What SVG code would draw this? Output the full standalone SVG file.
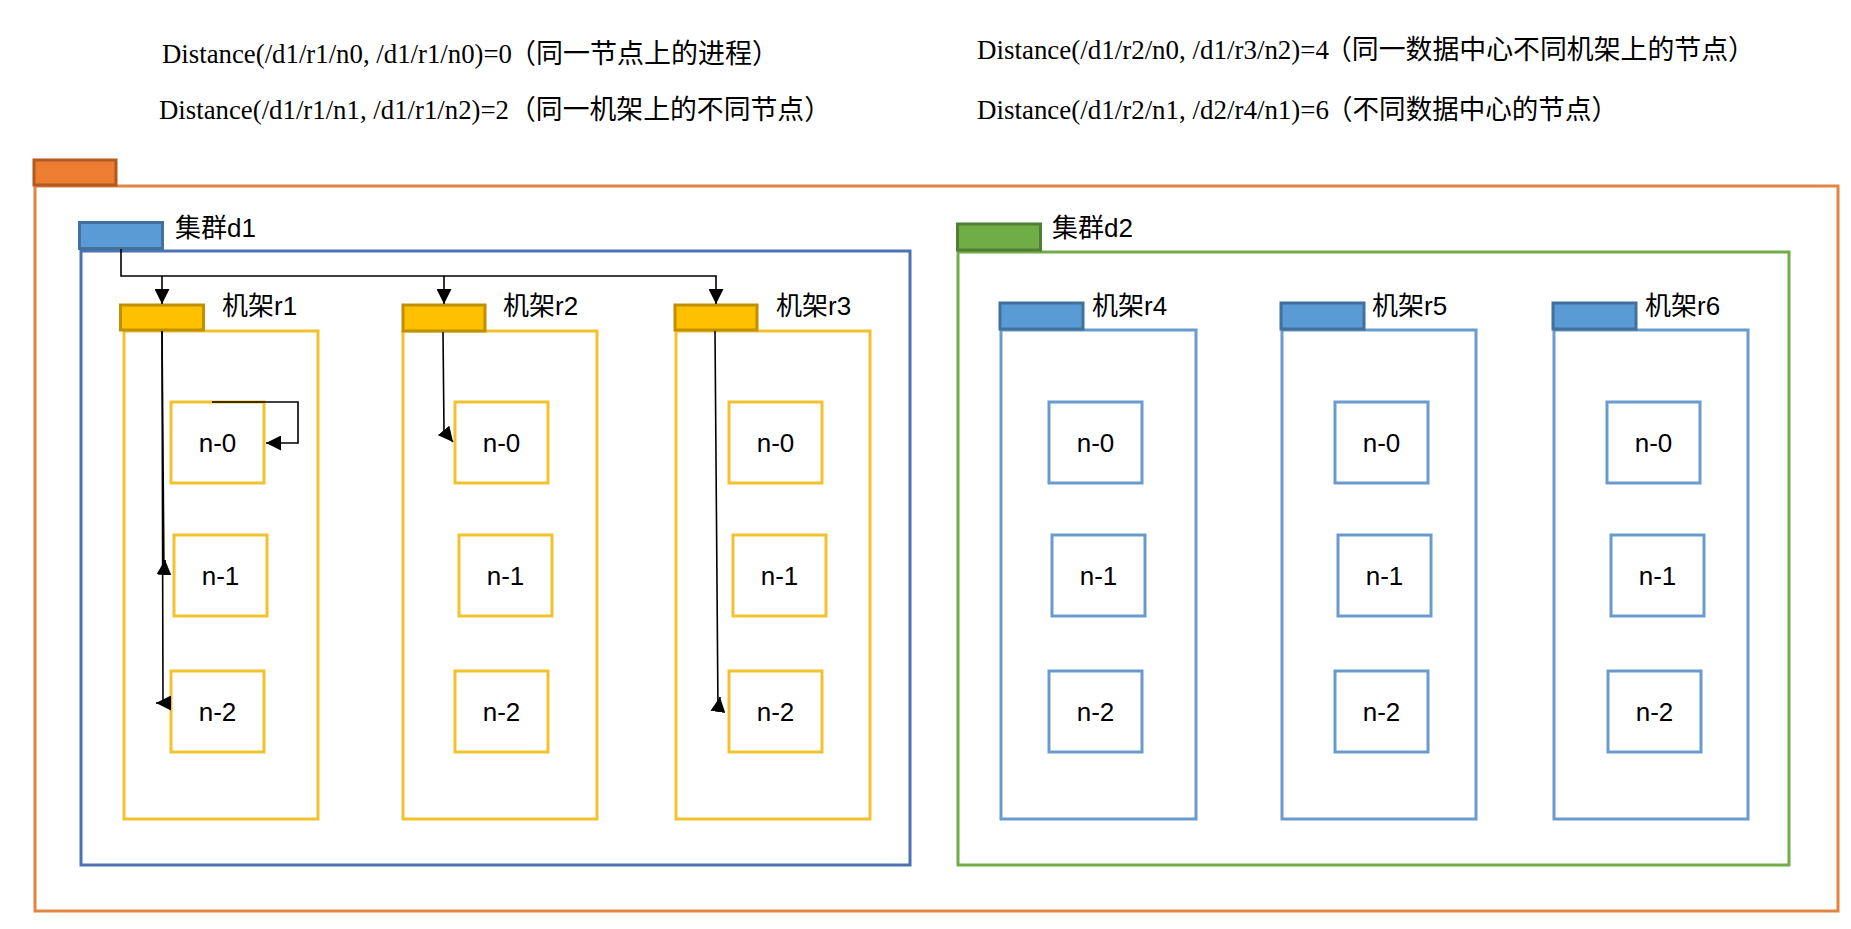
<svg xmlns="http://www.w3.org/2000/svg" width="1851" height="929" viewBox="0 0 1851 929">
<style>
.bg{fill:#fff}
.orange{fill:none;stroke:#E38441;stroke-width:3}
.tab-o{fill:#ED7D31;stroke:#AE5A21;stroke-width:3}
.tab-b{fill:#5B9BD5;stroke:#41719C;stroke-width:3}
.tab-g{fill:#70AD47;stroke:#507E32;stroke-width:3}
.tab-y{fill:#FFC000;stroke:#BF9000;stroke-width:3}
.box-d1{fill:none;stroke:#4A72B4;stroke-width:3}
.box-d2{fill:none;stroke:#70AD47;stroke-width:3}
.rack-y{fill:none;stroke:#F2C12E;stroke-width:3}
.rack-b{fill:none;stroke:#6A9BCD;stroke-width:3}
.node-y{fill:#fff;stroke:#F2C12E;stroke-width:3}
.node-b{fill:#fff;stroke:#6A9BCD;stroke-width:3}
.lbl{font-family:"Liberation Sans","Noto Sans CJK SC",sans-serif;font-size:26px;fill:#000}
.nt{font-family:"Liberation Sans",Arial,sans-serif;font-size:26px;text-anchor:middle;fill:#000}
.lat{font-family:"Liberation Serif","Times New Roman",serif;font-size:28px;fill:#000}
.cjk{font-family:"Noto Sans CJK SC",sans-serif;font-size:27.5px;fill:#000}
.conn{fill:none;stroke:#000;stroke-width:1.6}
</style>
<defs>
<marker id="arr" markerUnits="userSpaceOnUse" markerWidth="15" markerHeight="15" viewBox="0 0 14 14" refX="14" refY="7" orient="auto">
<path d="M0,0 L14,7 L0,14 Z" fill="#000"/>
</marker>
</defs>
<rect class="bg" x="0" y="0" width="1851" height="929"/>

<g id="formulas">
<text class="lat" x="162" y="63" textLength="350" lengthAdjust="spacingAndGlyphs">Distance(/d1/r1/n0, /d1/r1/n0)=0</text>
<text class="cjk" x="509" y="63" textLength="270" lengthAdjust="spacingAndGlyphs">（同一节点上的进程）</text>
<text class="lat" x="159" y="119" textLength="350" lengthAdjust="spacingAndGlyphs">Distance(/d1/r1/n1, /d1/r1/n2)=2</text>
<text class="cjk" x="509" y="119" textLength="322" lengthAdjust="spacingAndGlyphs">（同一机架上的不同节点）</text>
<text class="lat" x="977" y="58.5" textLength="352" lengthAdjust="spacingAndGlyphs">Distance(/d1/r2/n0, /d1/r3/n2)=4</text>
<text class="cjk" x="1325" y="58.5" textLength="430" lengthAdjust="spacingAndGlyphs">（同一数据中心不同机架上的节点）</text>
<text class="lat" x="977" y="119" textLength="352" lengthAdjust="spacingAndGlyphs">Distance(/d1/r2/n1, /d2/r4/n1)=6</text>
<text class="cjk" x="1326" y="119" textLength="292" lengthAdjust="spacingAndGlyphs">（不同数据中心的节点）</text>
</g>

<g id="root">
<rect class="orange" x="35" y="186" width="1803" height="725"/>
<rect class="tab-o" x="34" y="160" width="82" height="25"/>
</g>

<g id="d1">
<rect class="box-d1" x="81" y="251" width="829" height="614"/>
<rect class="tab-b" x="79.5" y="222.5" width="83" height="26"/>
<text class="lbl" x="175" y="237" font-size="27">集群d1</text>
</g>

<g id="d2">
<rect class="box-d2" x="958" y="252" width="831" height="613"/>
<rect class="tab-g" x="957.5" y="224" width="83" height="26"/>
<text class="lbl" x="1052" y="237" font-size="27">集群d2</text>
</g>

<g id="r1">
<rect class="rack-y" x="124" y="331" width="194" height="488"/>
<rect class="tab-y" x="120.5" y="305" width="83" height="25"/>
<text class="lbl" x="222" y="315">机架r1</text>
</g>
<g id="r1-n0"><rect class="node-y" x="171" y="402" width="93" height="81"/><text class="nt" x="217.5" y="452">n-0</text></g>
<g id="r1-n1"><rect class="node-y" x="174" y="535" width="93" height="81"/><text class="nt" x="220.5" y="585">n-1</text></g>
<g id="r1-n2"><rect class="node-y" x="171" y="671" width="93" height="81"/><text class="nt" x="217.5" y="721">n-2</text></g>

<g id="r2">
<rect class="rack-y" x="403" y="331" width="194" height="488"/>
<rect class="tab-y" x="403" y="305" width="82" height="26"/>
<text class="lbl" x="503" y="315">机架r2</text>
</g>
<g id="r2-n0"><rect class="node-y" x="455" y="402" width="93" height="81"/><text class="nt" x="501.5" y="452">n-0</text></g>
<g id="r2-n1"><rect class="node-y" x="459" y="535" width="93" height="81"/><text class="nt" x="505.5" y="585">n-1</text></g>
<g id="r2-n2"><rect class="node-y" x="455" y="671" width="93" height="81"/><text class="nt" x="501.5" y="721">n-2</text></g>

<g id="r3">
<rect class="rack-y" x="676" y="331" width="194" height="488"/>
<rect class="tab-y" x="675" y="305" width="82" height="25"/>
<text class="lbl" x="776" y="315">机架r3</text>
</g>
<g id="r3-n0"><rect class="node-y" x="729" y="402" width="93" height="81"/><text class="nt" x="775.5" y="452">n-0</text></g>
<g id="r3-n1"><rect class="node-y" x="733" y="535" width="93" height="81"/><text class="nt" x="779.5" y="585">n-1</text></g>
<g id="r3-n2"><rect class="node-y" x="729" y="671" width="93" height="81"/><text class="nt" x="775.5" y="721">n-2</text></g>

<g id="r4">
<rect class="rack-b" x="1001" y="330" width="195" height="489"/>
<rect class="tab-b" x="1000" y="303" width="83" height="26"/>
<text class="lbl" x="1092" y="315">机架r4</text>
</g>
<g id="r4-n0"><rect class="node-b" x="1049" y="402" width="93" height="81"/><text class="nt" x="1095.5" y="452">n-0</text></g>
<g id="r4-n1"><rect class="node-b" x="1052" y="535" width="93" height="81"/><text class="nt" x="1098.5" y="585">n-1</text></g>
<g id="r4-n2"><rect class="node-b" x="1049" y="671" width="93" height="81"/><text class="nt" x="1095.5" y="721">n-2</text></g>

<g id="r5">
<rect class="rack-b" x="1282" y="330" width="194" height="489"/>
<rect class="tab-b" x="1281" y="303" width="83" height="26"/>
<text class="lbl" x="1372" y="315">机架r5</text>
</g>
<g id="r5-n0"><rect class="node-b" x="1335" y="402" width="93" height="81"/><text class="nt" x="1381.5" y="452">n-0</text></g>
<g id="r5-n1"><rect class="node-b" x="1338" y="535" width="93" height="81"/><text class="nt" x="1384.5" y="585">n-1</text></g>
<g id="r5-n2"><rect class="node-b" x="1335" y="671" width="93" height="81"/><text class="nt" x="1381.5" y="721">n-2</text></g>

<g id="r6">
<rect class="rack-b" x="1554" y="330" width="194" height="489"/>
<rect class="tab-b" x="1553" y="303" width="83" height="26"/>
<text class="lbl" x="1645" y="315">机架r6</text>
</g>
<g id="r6-n0"><rect class="node-b" x="1607" y="402" width="93" height="81"/><text class="nt" x="1653.5" y="452">n-0</text></g>
<g id="r6-n1"><rect class="node-b" x="1611" y="535" width="93" height="81"/><text class="nt" x="1657.5" y="585">n-1</text></g>
<g id="r6-n2"><rect class="node-b" x="1608" y="671" width="93" height="81"/><text class="nt" x="1654.5" y="721">n-2</text></g>

<g id="connectors">
<path class="conn" d="M121,249 V276 H716 V304" marker-end="url(#arr)"/>
<path class="conn" d="M162,276 V304" marker-end="url(#arr)"/>
<path class="conn" d="M444,276 V304" marker-end="url(#arr)"/>
<path class="conn" d="M162,331 L164,574 L165,560" marker-end="url(#arr)"/>
<path class="conn" d="M162,331 L163,703 L170,703 L156,703" marker-end="url(#arr)"/>
<path class="conn" d="M212,402 H298 V443 H266" marker-end="url(#arr)"/>
<path class="conn" d="M443,332 L444,431 L453,442" marker-end="url(#arr)"/>
<path class="conn" d="M715,331 L718,711 L720,697" marker-end="url(#arr)"/>
</g>
</svg>
